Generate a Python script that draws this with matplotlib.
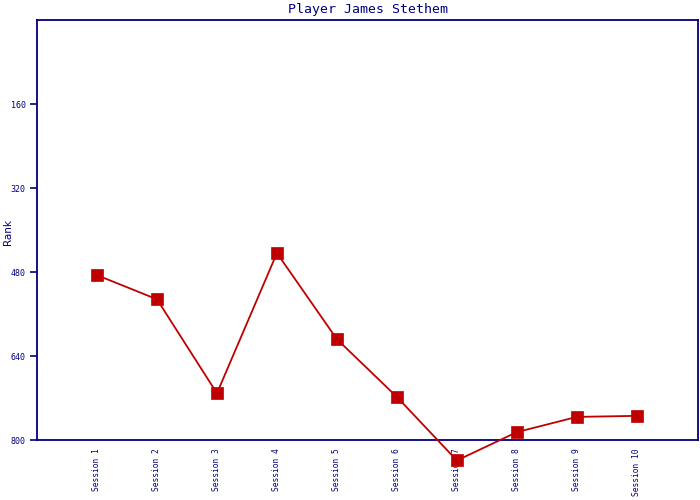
import matplotlib
matplotlib.use("Agg")
import matplotlib.pyplot as plt

sessions = [f"Session {i}" for i in range(1, 11)]
ranks = [486, 532, 711, 444, 608, 718, 839, 785, 756, 754]
yticks = [160, 320, 480, 640, 800]

navy = "#000080"
red = "#C00000"
plt.rcParams.update({"font.family": "DejaVu Sans Mono"})

fig = plt.figure(figsize=(7, 5), dpi=100)
ax = fig.add_axes([37/700, 60/500, 661/700, 420/500])
x = list(range(len(sessions)))
ax.plot(x, ranks, color=red, lw=1.3, marker="s", ms=8, mew=0.5, clip_on=False, zorder=5)

ax.set_xlim(-1, 10.02)
ax.set_ylim(800, 0)
ax.set_yticks(yticks)
ax.set_yticklabels([str(v) for v in yticks], fontsize=6, color=navy)
ax.set_xticks(x)
ax.set_xticklabels(sessions, rotation=90, fontsize=5.7, color=navy, va="top")
ax.tick_params(axis="x", length=0, pad=6)
ax.tick_params(axis="y", length=5, width=1.2, color=navy, pad=3)
for s in ax.spines.values():
    s.set_color(navy)
    s.set_linewidth(1.3)
fig.text(8/700, 1 - 232/500, "Rank", color=navy, fontsize=7.5, family="DejaVu Sans",
         rotation=90, ha="center", va="center")
ax.set_title("Player James Stethem", color=navy, fontsize=9.5, pad=5)

fig.savefig("out.png", dpi=100)
